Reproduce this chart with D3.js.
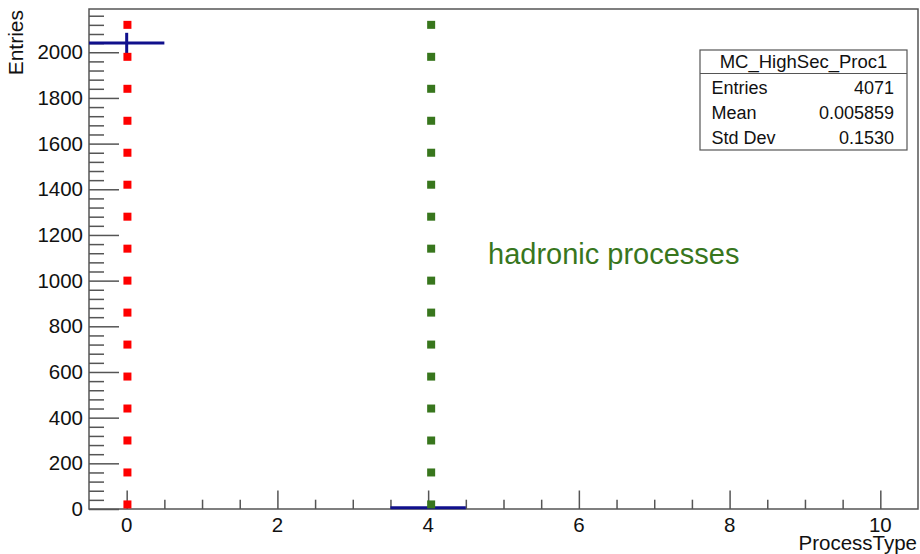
<!DOCTYPE html>
<html>
<head>
<meta charset="utf-8">
<title>MC_HighSec_Proc1</title>
<script src="https://d3js.org/d3.v7.min.js"></script>
<style>
  body { margin: 0; background: #fff; }
  svg text { font-family: "Liberation Sans", Arial, sans-serif; fill: #111; }
  .frame { fill: none; stroke: #555; stroke-width: 1.5; }
  .tick line { stroke: #555; stroke-width: 1.5; }
</style>
</head>
<body>
<div id="chart"></div>
<script>
// histogram contents, one bin per process type
const binCenters = [0, 1, 2, 3, 4, 5, 6, 7, 8, 9, 10];
const binCounts = [2040, 0, 0, 0, 6, 0, 0, 0, 0, 0, 0];

const xTicks = [0, 2, 4, 6, 8, 10];
const yTicks = [0, 200, 400, 600, 800, 1000, 1200, 1400, 1600, 1800, 2000];

// dotted marker columns drawn on top of the plot
const markerCols = [
  { x: 0.01, color: '#ff0000' },
  { x: 4.04, color: '#38761d' }
];
const markerVals = [2120, 1980, 1840, 1700, 1560, 1420, 1280, 1140, 1000, 860, 720, 580, 440, 300, 160, 20];

const statsTitle = 'MC_HighSec_Proc1';
const statsRows = [['Entries', '4071'], ['Mean', '0.005859'], ['Std Dev', '0.1530']];

const w = 920, h = 554;
const margin = { left: 89, right: 2, top: 9, bottom: 45 };

const svg = d3.select('#chart').append('svg')
  .attr('width', w).attr('height', h);

const x = d3.scaleLinear().domain([-0.5, 10.5]).range([margin.left, w - margin.right]);
const yMax = (binCounts[0] + Math.sqrt(binCounts[0])) * 1.05;
const y = d3.scaleLinear().domain([0, yMax]).range([h - margin.bottom, margin.top]);

// frame
svg.append('rect').attr('class', 'frame')
  .attr('x', x(-0.5)).attr('y', y(yMax))
  .attr('width', x(10.5) - x(-0.5)).attr('height', y(0) - y(yMax));

// y axis: major every 200, minor every 40, ticks point inward
const yMinor = d3.range(0, yMax, 40).filter(v => v % 200 !== 0);
const yAx = svg.append('g').attr('transform', 'translate(' + x(-0.5) + ',0)');
yAx.call(d3.axisRight(y).tickValues(yTicks).tickSize(30).tickFormat(''))
  .select('.domain').remove();
yAx.append('g').call(d3.axisRight(y).tickValues(yMinor).tickSize(15).tickFormat(''))
  .select('.domain').remove();
svg.append('g').selectAll('text').data(yTicks).enter().append('text')
  .attr('x', x(-0.5) - 6).attr('y', d => y(d) + 7)
  .attr('text-anchor', 'end').attr('font-size', 20.5)
  .text(d => d);

// x axis: major every 2, minor every 0.5
const xMinor = d3.range(0, 10.5, 0.5).filter(v => v % 2 !== 0);
const xAx = svg.append('g').attr('transform', 'translate(0,' + y(0) + ')');
xAx.call(d3.axisTop(x).tickValues(xTicks).tickSize(18.5).tickFormat(''))
  .select('.domain').remove();
xAx.append('g').call(d3.axisTop(x).tickValues(xMinor).tickSize(9.3).tickFormat(''))
  .select('.domain').remove();
svg.append('g').selectAll('text').data(xTicks).enter().append('text')
  .attr('x', d => x(d)).attr('y', y(0) + 22.5)
  .attr('text-anchor', 'middle').attr('font-size', 20.5)
  .text(d => d);

// axis titles
svg.append('text')
  .attr('x', w - 3).attr('y', h - 4)
  .attr('text-anchor', 'end').attr('font-size', 20.5)
  .text('ProcessType');
svg.append('text')
  .attr('transform', 'translate(23,10) rotate(-90)')
  .attr('text-anchor', 'end').attr('font-size', 21)
  .text('Entries');

// histogram with error bars (filled bins only)
const bins = binCenters.map((c, i) => ({ c: c, n: binCounts[i] })).filter(d => d.n > 0);
const hist = svg.append('g').attr('stroke', '#10108c').attr('stroke-width', 3);
hist.selectAll('line.hbar').data(bins).enter().append('line')
  .attr('x1', d => x(d.c - 0.5)).attr('x2', d => x(d.c + 0.5))
  .attr('y1', d => y(d.n)).attr('y2', d => y(d.n));
hist.selectAll('line.err').data(bins).enter().append('line')
  .attr('x1', d => x(d.c)).attr('x2', d => x(d.c))
  .attr('y1', d => y(d.n + Math.sqrt(d.n))).attr('y2', d => y(d.n - Math.sqrt(d.n)));

// marker columns
markerCols.forEach(function (col) {
  svg.append('g').selectAll('rect').data(markerVals).enter().append('rect')
    .attr('x', x(col.x) - 4).attr('y', d => y(d) - 4)
    .attr('width', 8).attr('height', 8)
    .attr('fill', col.color);
});

// annotation
svg.append('text')
  .attr('x', 488).attr('y', 264)
  .attr('font-size', 29)
  .style('fill', '#38761d')
  .text('hadronic processes');

// stats box
const box = svg.append('g').attr('transform', 'translate(700,50)');
box.append('rect').attr('width', 207).attr('height', 100)
  .attr('fill', '#fff').attr('stroke', '#555').attr('stroke-width', 1.2);
box.append('line').attr('x1', 0).attr('x2', 207).attr('y1', 23.5).attr('y2', 23.5)
  .attr('stroke', '#555').attr('stroke-width', 1.2);
box.append('text').attr('x', 103.5).attr('y', 17.5)
  .attr('text-anchor', 'middle').attr('font-size', 18.5).text(statsTitle);
statsRows.forEach(function (r, i) {
  box.append('text').attr('x', 11.5).attr('y', 44 + i * 25)
    .attr('font-size', 18).text(r[0]);
  box.append('text').attr('x', 194).attr('y', 44 + i * 25)
    .attr('text-anchor', 'end').attr('font-size', 18).text(r[1]);
});
</script>
</body>
</html>
